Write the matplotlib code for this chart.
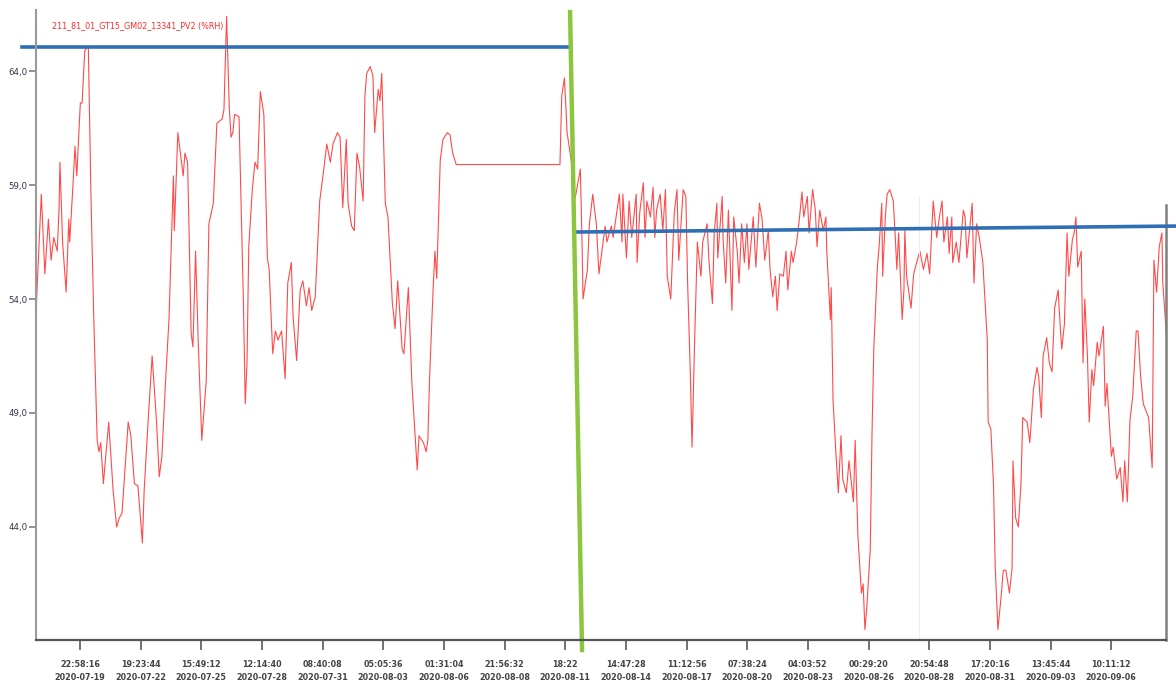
import matplotlib
matplotlib.use("Agg")
import matplotlib.pyplot as plt
import pandas as pd

# hours since 2020-07-17 21:22 and relative humidity (%RH)
start = pd.Timestamp("2020-07-17 21:22:00")

hours = [0, 6, 10, 14, 17, 20, 24, 26, 27, 30, 34, 37, 38, 42, 44, 46, 50, 52, 55, 59,
         62, 65, 69, 71, 73, 76, 82, 87, 91, 94, 97, 104, 107, 111, 115, 120, 122, 127, 131, 136,
         139, 142, 146, 150, 155, 156, 160, 166, 168, 171, 175, 177, 180, 183, 187, 192, 195, 200, 204, 210,
         212, 215, 218, 220, 222, 224, 229, 234, 236, 238, 240, 244, 247, 250, 253, 257,
         261, 263, 267, 270, 273, 277, 281, 284, 288, 290, 294, 298, 301, 305, 308, 311, 315, 320, 324, 328,
         332, 335, 340, 343, 346, 350, 352, 356, 359, 362, 365, 369, 371, 373, 377, 380, 382, 386, 388, 390,
         394, 397, 402, 405, 408, 413, 415, 420, 424, 430, 432, 437, 440, 442, 444, 448, 450, 452, 456, 459,
         464, 467, 470, 474, 591,
         593, 596, 598, 599, 601, 605, 606, 609, 614, 616, 617, 622, 624, 628, 632, 635, 640, 642, 644, 649,
         651, 655, 658, 661, 662, 666, 669, 672, 677, 678, 681, 685, 687, 689, 693, 696, 698, 700, 704, 707,
         710, 712, 716, 720, 723, 725, 730, 733, 735, 738, 740, 743, 746, 750, 752, 757,
         759, 763, 765, 768, 769, 774, 775, 778, 781, 785, 787, 791, 793, 796, 799, 802, 804, 809, 812, 816,
         819, 822, 826, 828, 831, 834, 836, 839, 843, 846, 848, 852, 854, 858, 861, 864, 866, 870, 872, 876,
         879, 881, 884, 888, 891, 892, 896, 897, 899, 902, 905, 908, 910, 914, 917, 922, 924, 927, 931, 933,
         935, 937, 941, 943, 945, 949, 951, 954, 955, 958, 960, 963, 967, 969, 971, 973, 977, 979, 980, 982,
         987, 990, 994, 997, 1001, 1005,
         1008, 1012, 1016, 1019, 1022, 1024, 1028, 1030, 1033, 1034, 1038, 1041, 1046, 1048, 1050, 1056, 1058, 1061, 1064, 1068,
         1073, 1074, 1077, 1080, 1082, 1085, 1089, 1091, 1094, 1098, 1101, 1102, 1105, 1108, 1111, 1113, 1118, 1121, 1125, 1129,
         1131, 1134, 1136, 1140, 1143, 1146, 1149, 1153, 1154, 1157, 1160, 1163, 1165, 1169, 1171, 1173, 1175, 1179, 1181, 1183,
         1186, 1188, 1191, 1193, 1197, 1199, 1204, 1206, 1208, 1213, 1215, 1219, 1223, 1226, 1228, 1231, 1234, 1237, 1241, 1243,
         1246, 1249, 1253, 1255, 1259, 1261, 1264, 1267, 1270, 1271, 1276]

rh = [53.4, 58.6, 55.1, 57.5, 55.7, 56.7, 56.1, 58.0, 60.0, 56.5, 54.3, 57.5, 56.5, 59.2, 60.7, 59.4, 62.6, 62.6, 64.9, 65.1,
      58.5, 53.4, 47.8, 47.3, 47.7, 45.9, 48.6, 45.6, 44.0, 44.4, 44.6, 48.6, 48.0, 45.9, 45.8, 43.3, 45.6, 49.0, 51.5, 48.6,
      46.2, 47.1, 50.3, 53.1, 59.4, 57.0, 61.3, 59.4, 60.4, 60.0, 52.5, 51.9, 56.1, 52.1, 47.8, 50.4, 57.3, 58.2, 61.7, 61.9,
      62.3, 66.4, 62.4, 61.1, 61.3, 62.1, 62.0, 53.8, 49.4, 51.2, 56.3, 58.8, 60.0, 59.7, 63.1, 62.1,
      55.8, 55.3, 51.6, 52.6, 52.2, 52.6, 50.5, 54.7, 55.6, 53.2, 51.3, 54.4, 54.8, 53.7, 54.5, 53.5, 54.1, 58.3, 59.5, 60.8,
      60.0, 60.8, 61.3, 61.1, 58.0, 61.0, 58.2, 57.2, 57.0, 60.4, 59.8, 58.3, 62.9, 63.9, 64.2, 63.8, 61.3, 63.2, 62.7, 63.9,
      58.2, 57.6, 53.8, 52.7, 54.8, 51.8, 51.6, 54.5, 50.3, 46.5, 48.0, 47.7, 47.3, 47.8, 50.6, 54.5, 56.1, 54.9, 60.1, 61.0,
      61.3, 61.2, 60.4, 59.9, 59.9,
      62.9, 63.7, 62.2, 61.3, 60.8, 59.7, 58.2, 58.6, 59.7, 56.3, 54.0, 55.3, 57.2, 58.6, 57.3, 55.1, 56.6, 57.2, 56.5, 57.2,
      56.7, 57.8, 58.6, 56.5, 58.6, 55.8, 58.3, 56.7, 58.6, 55.6, 57.8, 59.1, 56.7, 58.3, 57.6, 58.9, 56.7, 57.9, 58.6, 57.0,
      58.8, 55.0, 54.0, 57.8, 58.8, 55.7, 58.8, 58.5, 54.7, 50.8, 47.5, 52.3, 56.5, 55.0, 56.5, 57.3,
      55.7, 53.8, 56.9, 58.2, 55.8, 58.5, 56.6, 54.7, 57.9, 53.5, 57.6, 56.1, 54.7, 57.3, 55.6, 57.3, 55.3, 57.6, 55.4, 58.2,
      57.5, 55.7, 57.0, 55.3, 54.1, 55.0, 53.5, 55.1, 55.0, 56.1, 54.4, 56.1, 55.6, 56.5, 57.5, 58.7, 57.6, 58.5, 56.9, 58.8,
      57.9, 56.3, 57.9, 57.0, 57.6, 56.1, 53.1, 54.5, 49.6, 47.4, 45.5, 48.0, 46.1, 45.5, 46.9, 45.1, 47.8, 43.7, 41.1, 41.5,
      39.5, 40.4, 43.0, 48.1, 51.8, 55.4, 56.3, 58.2, 55.0, 57.6, 58.6, 58.8, 58.3, 56.9, 55.3, 56.9, 53.1, 54.4, 57.0, 55.0,
      53.6, 55.1, 55.7, 56.1, 55.3, 56.0,
      55.1, 58.3, 56.7, 57.6, 58.3, 56.5, 57.6, 56.0, 57.6, 55.6, 56.5, 55.6, 57.9, 57.6, 55.8, 58.2, 54.7, 57.3, 56.7, 55.6,
      52.2, 48.6, 48.3, 45.9, 42.2, 39.5, 41.1, 42.1, 42.1, 41.1, 42.2, 46.9, 44.4, 44.0, 45.9, 48.8, 48.6, 47.7, 50.0, 51.0,
      50.6, 48.8, 51.5, 52.3, 51.2, 50.8, 53.6, 54.4, 53.6, 51.8, 52.9, 56.9, 55.0, 56.6, 56.9, 57.6, 55.4, 56.1, 51.2, 54.0,
      51.5, 48.6, 50.9, 50.2, 52.1, 51.5, 52.8, 49.3, 50.3, 47.1, 47.5, 46.1, 46.6, 45.1, 46.9, 45.1, 48.7, 49.7, 52.6, 52.6,
      50.6, 49.4, 49.0, 48.8, 46.6, 55.7, 54.3, 56.3, 56.9, 54.7, 51.9]

tick_times = ["2020-07-19 22:58:16", "2020-07-22 19:23:44", "2020-07-25 15:49:12",
              "2020-07-28 12:14:40", "2020-07-31 08:40:08", "2020-08-03 05:05:36",
              "2020-08-06 01:31:04", "2020-08-08 21:56:32", "2020-08-11 18:22:00",
              "2020-08-14 14:47:28", "2020-08-17 11:12:56", "2020-08-20 07:38:24",
              "2020-08-23 04:03:52", "2020-08-26 00:29:20", "2020-08-28 20:54:48",
              "2020-08-31 17:20:16", "2020-09-03 13:45:44", "2020-09-06 10:11:12"]
tick_labels = ["22:58:16\n2020-07-19", "19:23:44\n2020-07-22", "15:49:12\n2020-07-25",
               "12:14:40\n2020-07-28", "08:40:08\n2020-07-31", "05:05:36\n2020-08-03",
               "01:31:04\n2020-08-06", "21:56:32\n2020-08-08", "18:22\n2020-08-11",
               "14:47:28\n2020-08-14", "11:12:56\n2020-08-17", "07:38:24\n2020-08-20",
               "04:03:52\n2020-08-23", "00:29:20\n2020-08-26", "20:54:48\n2020-08-28",
               "17:20:16\n2020-08-31", "13:45:44\n2020-09-03", "10:11:12\n2020-09-06"]
y_ticks = [44, 49, 54, 59, 64]
y_labels = ["44,0", "49,0", "54,0", "59,0", "64,0"]

# hand drawn annotations (hours, %RH)
blue1_h = [-15.8, 601.2]
blue1_v = [65.05, 65.05]
blue2_h = [610.2, 1286.0]
blue2_v = [56.94, 57.2]
green_h = [602.4, 615.9]
green_v = [66.59, 38.6]

def to_time(h):
    return start + pd.to_timedelta(h, unit="h")

t = to_time(hours)
x_end = to_time(1274.6)

fig = plt.figure(figsize=(11.76, 6.82), dpi=100)
ax = fig.add_axes([36/1176, 42/682, 1130/1176, 630/682])

ax.plot(t, rh, color="#ff2a2a", lw=0.8, alpha=0.85)

ax.set_xlim(start, x_end)
ax.set_ylim(39.04, 66.68)

ax.set_yticks(y_ticks)
ax.set_yticklabels(y_labels)
ax.set_xticks(pd.to_datetime(tick_times))
ax.set_xticklabels(tick_labels, linespacing=1.5)

ax.tick_params(axis="y", length=5, width=1.3, color="#888888", labelsize=6.2,
               labelcolor="#33334d", pad=1)
ax.tick_params(axis="x", length=7.5, width=1.3, color="#666666", labelsize=5.8,
               labelcolor="#444444", pad=7)
for lab in ax.get_xticklabels():
    lab.set_fontweight("bold")

ax.spines["top"].set_visible(False)
ax.spines["right"].set_visible(False)
ax.spines["left"].set_color("#9a9a9a")
ax.spines["left"].set_linewidth(1.5)
ax.spines["bottom"].set_color("#555555")
ax.spines["bottom"].set_linewidth(1.6)
ax.axvline(x_end, ymin=0, ymax=0.69, color="#808080", lw=1.8, clip_on=False)
ax.axvline(to_time(996), ymin=0, ymax=0.705, color="#eeeeee", lw=0.8)

ax.text(0.014, 0.975, "211_81_01_GT15_GM02_13341_PV2 (%RH)", transform=ax.transAxes,
        color="#ff2a2a", fontsize=5.8, va="center", ha="left")

ax.plot(to_time(blue1_h), blue1_v, color="#2e6fb5", lw=2.6, clip_on=False)
ax.plot(to_time(blue2_h), blue2_v, color="#2e6fb5", lw=2.6, clip_on=False)
ax.plot(to_time(green_h), green_v, color="#8cc63f", lw=3.2, clip_on=False)

fig.savefig("out.png", dpi=100)
